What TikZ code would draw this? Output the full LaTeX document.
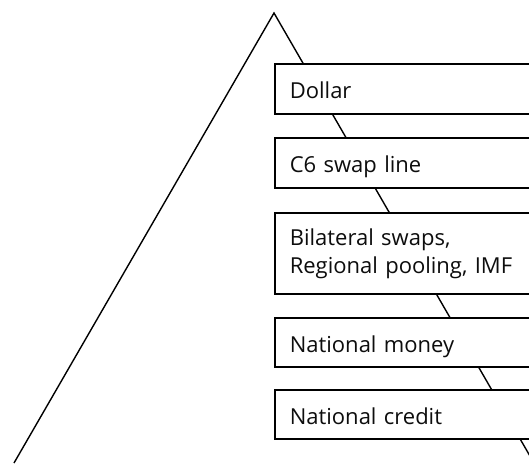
\documentclass[tikz,border=0pt]{standalone}
\usepackage{fontspec}
\setmainfont{Open Sans}
\begin{document}
\begin{tikzpicture}[x=1pt,y=1pt,
  tier/.style={draw=black, line width=1.6pt, fill=white, anchor=north west,
    minimum width=280pt, text width=250pt, inner xsep=15pt, inner ysep=0pt,
    align=left, font=\fontsize{22}{28}\selectfont, text=black!95},
  single/.style={tier, text height=25pt, text depth=5pt},
  outline/.style={draw=black, line width=1.4pt, line join=miter}]
\useasboundingbox (0,-463) rectangle (529,0);
\clip (0,-463) rectangle (529,0);
\coordinate (apex) at (274,-13);
\coordinate (bl) at (14,-463);
\coordinate (br) at (534,-463);
\draw[outline] (bl) -- (apex) -- (br);
\node[single, minimum height=50pt] (dollar) at (274,-63) {Dollar};
\node[single, minimum height=50pt] (c6) at (274,-137) {C6 swap line};
\node[tier, minimum height=81pt] (bilat) at (274,-212) {Bilateral swaps,\\Regional pooling, IMF};
\node[single, minimum height=49pt] (nmoney) at (274,-317) {National money};
\node[single, minimum height=49pt] (ncredit) at (274,-389) {National credit};
\end{tikzpicture}
\end{document}
